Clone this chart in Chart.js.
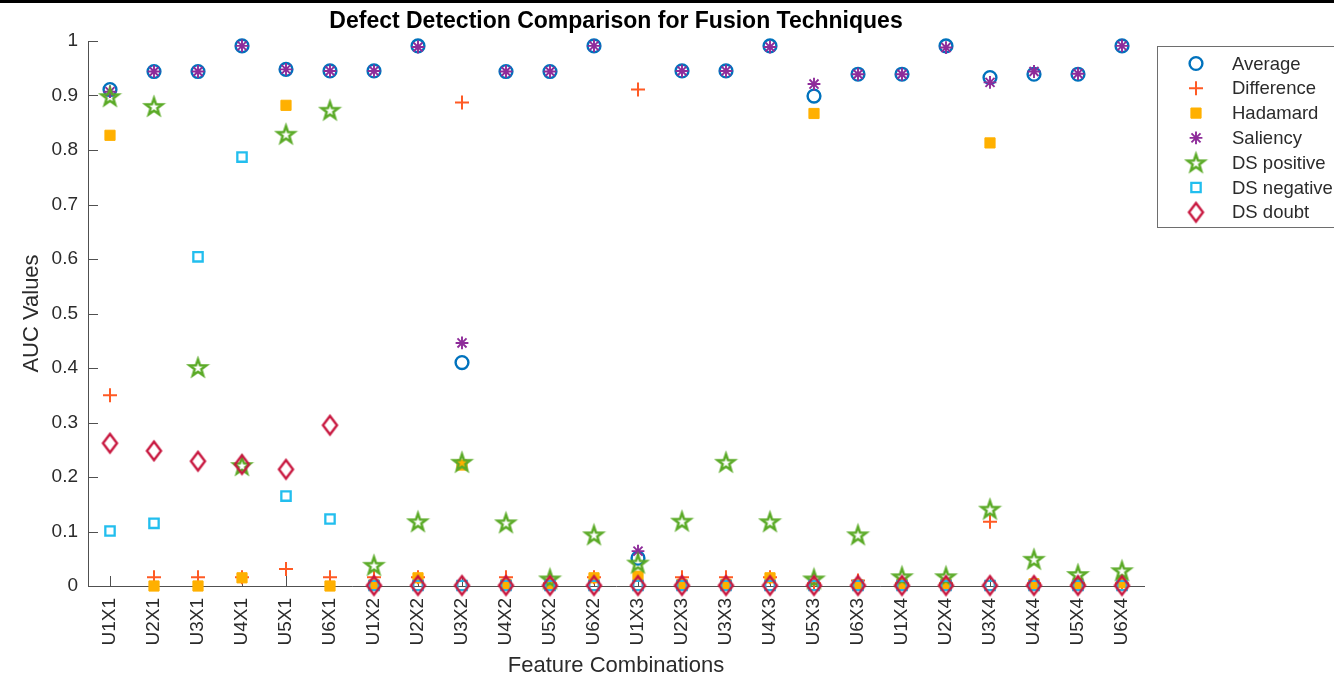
<!DOCTYPE html>
<html>
<head>
<meta charset="utf-8">
<title>Defect Detection Comparison for Fusion Techniques</title>
<script src="https://cdn.jsdelivr.net/npm/chart.js@4.4.1/dist/chart.umd.min.js"></script>
<style>
  html, body { margin: 0; padding: 0; background: #fff; }
  #wrap { position: relative; width: 1334px; height: 679px; overflow: hidden; background: #fff; }
  #wrap canvas { position: absolute; left: 0; top: 0; }
  #topbar { position: absolute; left: 0; top: 0; width: 1334px; height: 3px; background: #000; }
</style>
</head>
<body>
<div id="wrap">
  <canvas id="chart" width="1334" height="679"></canvas>
  <div id="topbar"></div>
</div>
<script>
// Feature combinations on the x axis
const categories = ['U1X1','U2X1','U3X1','U4X1','U5X1','U6X1',
                    'U1X2','U2X2','U3X2','U4X2','U5X2','U6X2',
                    'U1X3','U2X3','U3X3','U4X3','U5X3','U6X3',
                    'U1X4','U2X4','U3X4','U4X4','U5X4','U6X4'];

// AUC values per fusion technique
const average    = [0.911,0.944,0.944,0.991,0.948,0.945,0.945,0.991,0.410,0.944,0.944,0.991,
                    0.051,0.945,0.945,0.991,0.899,0.939,0.939,0.991,0.933,0.939,0.939,0.991];
const difference = [0.350,0.016,0.016,0.016,0.031,0.016,0.016,0.016,0.887,0.016,0.005,0.016,
                    0.911,0.016,0.016,0.016,0.005,0.010,0.005,0.005,0.118,0.005,0.005,0.005];
const hadamard   = [0.827,0.000,0.000,0.015,0.882,0.000,0.002,0.015,0.222,0.003,0.003,0.015,
                    0.018,0.003,0.003,0.015,0.867,0.002,0.004,0.004,0.813,0.004,0.004,0.006];
const saliency   = [0.907,0.944,0.944,0.991,0.948,0.945,0.945,0.989,0.446,0.944,0.944,0.991,
                    0.064,0.945,0.945,0.989,0.921,0.939,0.939,0.988,0.924,0.944,0.940,0.991];
const dsPositive = [0.898,0.880,0.401,0.221,0.829,0.873,0.038,0.118,0.227,0.116,0.013,0.094,
                    0.042,0.119,0.227,0.118,0.013,0.094,0.017,0.017,0.141,0.049,0.021,0.028];
const dsNegative = [0.101,0.115,0.604,0.787,0.165,0.123,0.001,0.001,0.001,0.001,0.001,0.001,
                    0.001,0.001,0.001,0.001,0.001,0.001,0.001,0.001,0.001,0.001,0.001,0.001];
const dsDoubt    = [0.262,0.248,0.229,0.223,0.214,0.295,0.001,0.001,0.001,0.001,0.001,0.001,
                    0.001,0.001,0.001,0.001,0.001,0.001,0.001,0.001,0.001,0.001,0.001,0.001];

// Y axis tick labels
const yTickLabels = ['0','0.1','0.2','0.3','0.4','0.5','0.6','0.7','0.8','0.9','1'];

const FONT = "'Liberation Sans', Arial, Helvetica, sans-serif";
const TEXT = '#2b2b2b';
const AXIS = '#505050';

// Hollow five-pointed star marker
function makePentagram(color, R, lw) {
  const size = Math.ceil(2 * R + 2 * lw + 2);
  const c = document.createElement('canvas');
  c.width = size; c.height = size;
  const g = c.getContext('2d');
  const cx = size / 2, cy = size / 2 + R * 0.08;
  g.beginPath();
  for (let k = 0; k < 10; k++) {
    const r = k % 2 === 0 ? R : R * 0.40;
    const a = -Math.PI / 2 + k * Math.PI / 5;
    g.lineTo(cx + r * Math.cos(a), cy + r * Math.sin(a));
  }
  g.closePath();
  g.strokeStyle = color; g.lineWidth = lw; g.lineJoin = 'miter';
  g.stroke();
  return c;
}

// Hollow diamond marker, a little taller than wide
function makeDiamond(color, hw, hh, lw) {
  const w = Math.ceil(2 * hw + 2 * lw + 2), h = Math.ceil(2 * hh + 2 * lw + 2);
  const c = document.createElement('canvas');
  c.width = w; c.height = h;
  const g = c.getContext('2d');
  const cx = w / 2, cy = h / 2;
  g.beginPath();
  g.moveTo(cx, cy - hh); g.lineTo(cx + hw, cy); g.lineTo(cx, cy + hh); g.lineTo(cx - hw, cy);
  g.closePath();
  g.strokeStyle = color; g.lineWidth = lw; g.lineJoin = 'miter';
  g.stroke();
  return c;
}

const COL = {
  average: '#0072BD',
  difference: '#FF5A24',
  hadamard: '#FFB000',
  saliency: '#8E2C9A',
  dsPositive: '#5AAA26',
  dsNegative: '#22BEEE',
  dsDoubt: '#C8173F'
};

const starImg = makePentagram(COL.dsPositive, 8.8, 2.5);
const diamondImg = makeDiamond(COL.dsDoubt, 7, 9.3, 2.4);

const seriesDefs = [
  { label: 'Average',     data: average,    style: 'circle', r: 6.4, bw: 2.4, fill: 'rgba(0,0,0,0)',  color: COL.average },
  { label: 'Difference',  data: difference, style: 'cross',  r: 7,   bw: 2,   fill: 'rgba(0,0,0,0)',  color: COL.difference },
  { label: 'Hadamard',    data: hadamard,   style: 'rect',   r: 7.2, bw: 1,   fill: COL.hadamard,     color: COL.hadamard },
  { label: 'Saliency',    data: saliency,   style: 'star',   r: 6.4, bw: 1.9, fill: 'rgba(0,0,0,0)',  color: COL.saliency },
  { label: 'DS positive', data: dsPositive, style: starImg,  r: 8,   bw: 0,   fill: 'rgba(0,0,0,0)',  color: COL.dsPositive },
  { label: 'DS negative', data: dsNegative, style: 'rect',   r: 6.6, bw: 2.3, fill: 'rgba(0,0,0,0)',  color: COL.dsNegative },
  { label: 'DS doubt',    data: dsDoubt,    style: diamondImg, r: 8, bw: 0,   fill: 'rgba(0,0,0,0)',  color: COL.dsDoubt }
];

// Later series are painted on top of earlier ones
const datasets = seriesDefs.map((s, i) => ({
  label: s.label,
  data: s.data,
  showLine: false,
  pointStyle: s.style,
  pointRadius: s.r,
  pointHoverRadius: s.r,
  pointBorderWidth: s.bw,
  pointBackgroundColor: s.fill,
  pointBorderColor: s.color,
  borderColor: s.color,
  backgroundColor: s.fill,
  order: seriesDefs.length - i,
  clip: false
}));

// Inward tick marks on both axes
const innerTicks = {
  id: 'innerTicks',
  beforeDatasetsDraw(chart) {
    const { ctx, scales: { x, y } } = chart;
    ctx.save();
    ctx.strokeStyle = AXIS;
    ctx.lineWidth = 1;
    ctx.beginPath();
    y.ticks.forEach((t, i) => {
      const py = Math.round(y.getPixelForTick(i)) + 0.5;
      ctx.moveTo(x.left, py); ctx.lineTo(x.left + 10, py);
    });
    x.ticks.forEach((t, i) => {
      const px = Math.round(x.getPixelForTick(i)) + 0.5;
      ctx.moveTo(px, y.bottom); ctx.lineTo(px, y.bottom - 10);
    });
    ctx.stroke();
    ctx.restore();
  }
};

// Boxed legend to the right of the plot
const legendBox = {
  id: 'legendBox',
  afterDraw(chart) {
    const ctx = chart.ctx;
    const bx = 1157.5, by = 46.5, bw = 200, bh = 181;
    ctx.save();
    ctx.fillStyle = '#fff';
    ctx.fillRect(bx, by, bw, bh);
    ctx.strokeStyle = '#6e6e6e';
    ctx.lineWidth = 1;
    ctx.strokeRect(bx, by, bw, bh);
    ctx.font = '18.5px ' + FONT;
    ctx.textBaseline = 'middle';
    ctx.textAlign = 'left';
    seriesDefs.forEach((s, i) => {
      const ty = 64.5 + i * 24.8;
      const my = ty - 1;
      ctx.fillStyle = s.fill;
      ctx.strokeStyle = s.color;
      ctx.lineWidth = s.bw;
      Chart.helpers.drawPoint(ctx, { pointStyle: s.style, radius: s.r, borderWidth: s.bw, rotation: 0 }, 1196, my);
      ctx.fillStyle = TEXT;
      ctx.fillText(s.label, 1232, ty);
    });
    ctx.restore();
  }
};

new Chart(document.getElementById('chart').getContext('2d'), {
  type: 'line',
  data: { labels: categories, datasets },
  options: {
    responsive: false,
    animation: false,
    devicePixelRatio: 1,
    layout: { padding: { left: 0, right: 190, top: 0, bottom: 0 } },
    plugins: {
      legend: { display: false },
      tooltip: { enabled: false },
      title: {
        display: true,
        fullSize: false,
        text: 'Defect Detection Comparison for Fusion Techniques',
        color: '#000',
        font: { family: FONT, size: 23, weight: 'bold' },
        padding: { top: 8, bottom: 5.4 }
      }
    },
    scales: {
      x: {
        type: 'category',
        offset: true,
        grid: { display: false, drawTicks: false },
        border: { display: true, color: AXIS, width: 1 },
        ticks: {
          autoSkip: false, minRotation: 90, maxRotation: 90, padding: 12,
          color: TEXT, font: { family: FONT, size: 19 }
        },
        title: {
          display: true, text: 'Feature Combinations', color: TEXT,
          font: { family: FONT, size: 22 }, padding: { top: 0, bottom: 0 }
        },
        afterFit(scale) { scale.height = 93; }
      },
      y: {
        min: 0, max: 1,
        grid: { display: false, drawTicks: false },
        border: { display: true, color: AXIS, width: 1 },
        ticks: {
          stepSize: 0.1, autoSkip: false, padding: 10,
          color: TEXT, font: { family: FONT, size: 19 },
          callback: (v, i) => yTickLabels[i]
        },
        title: {
          display: true, text: 'AUC Values', color: TEXT,
          font: { family: FONT, size: 22 }, padding: { top: 19, bottom: 0 }
        },
        afterFit(scale) { scale.width = 88; }
      }
    }
  },
  plugins: [innerTicks, legendBox]
});
</script>
</body>
</html>
